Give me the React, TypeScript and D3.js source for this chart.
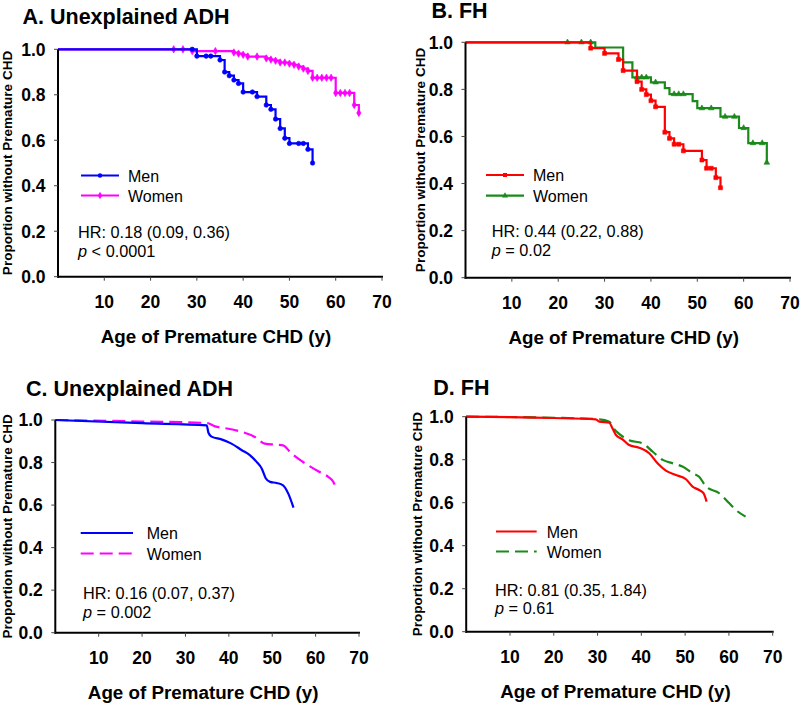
import React from "react";
import * as d3 from "d3";

// ---------- shared labels ----------
const xTicks = [10, 20, 30, 40, 50, 60, 70];
const yTicks = [0, 0.2, 0.4, 0.6, 0.8, 1.0];
const xTitle = "Age of Premature CHD (y)";
const yTitle = "Proportion without Premature CHD";
const legendNames = ["Men", "Women"];
const panelTitles = ["A. Unexplained ADH", "B. FH", "C. Unexplained ADH", "D. FH"];
const hrTexts = ["HR: 0.18 (0.09, 0.36)", "HR: 0.44 (0.22, 0.88)", "HR: 0.16 (0.07, 0.37)", "HR: 0.81 (0.35, 1.84)"];
const pTexts = ["< 0.0001", "= 0.02", "= 0.002", "= 0.61"];

// ---------- Panel A: Kaplan-Meier, unexplained ADH ----------
const aMenEvents: [number, number][] = [
  [30, 0.97], [35, 0.953], [36, 0.9], [37, 0.884], [38, 0.865], [39, 0.85], [40, 0.812],
  [43, 0.792], [45, 0.755], [46, 0.736], [47, 0.693], [48, 0.652], [49, 0.609], [50, 0.586],
  [54, 0.56], [55, 0.5],
];
const aMenMarks = [29, 30, 32, 33, 35, 36, 37, 38, 39, 40, 42, 43, 45, 46, 47, 48, 49, 50, 52, 53, 54, 55];
const aWomenEvents: [number, number][] = [
  [29, 0.992], [38, 0.986], [39, 0.981], [40, 0.976], [41, 0.968], [45, 0.96], [46, 0.955],
  [47, 0.95], [48, 0.942], [50, 0.937], [51, 0.932], [52, 0.924], [53, 0.915], [54, 0.905],
  [55, 0.875], [60, 0.808], [64, 0.755], [65, 0.72],
];
const aWomenMarks = [25, 27, 29, 34, 38, 39, 40, 41, 43, 45, 46, 47, 48, 49, 50, 51, 52, 53, 54, 55, 56, 57, 58, 59, 60, 61, 62, 63, 64, 65];

// ---------- Panel B: Kaplan-Meier, FH ----------
const bMenEvents: [number, number][] = [
  [27, 0.975], [30, 0.953], [33, 0.927], [34, 0.88], [37, 0.833], [38, 0.8], [39, 0.778],
  [40, 0.752], [41, 0.726], [43, 0.618], [44, 0.592], [45, 0.567], [47, 0.539], [51, 0.5],
  [52, 0.465], [54, 0.425], [55, 0.382],
];
const bMenMarks = [27, 30, 33, 34, 37, 38, 39, 40, 41, 43, 44, 45, 46, 47, 51, 52, 53, 54, 55];
const bWomenEvents: [number, number][] = [
  [28, 0.978], [34, 0.915], [36, 0.851], [40, 0.83], [43, 0.805], [44, 0.78], [49, 0.75],
  [50, 0.72], [55, 0.684], [59, 0.636], [61, 0.572], [65, 0.489],
];
const bWomenMarks = [22, 25, 27, 37, 38, 39, 41, 45, 46, 47, 51, 53, 56, 58, 60, 62, 64, 65];

// ---------- Panel C: adjusted curves, unexplained ADH ----------
const cMen: [number, number][] = [
  [0, 1.0], [20, 0.985], [34.9, 0.975], [35.3, 0.94], [36, 0.922], [38.3, 0.909], [40.6, 0.889],
  [43, 0.858], [44.9, 0.834], [46.4, 0.803], [47.6, 0.771], [48.5, 0.726], [49.5, 0.709],
  [51, 0.704], [52.5, 0.693], [53.7, 0.654], [54.9, 0.588],
];
const cWomen: [number, number][] = [
  [0, 1.0], [20, 0.993], [34.9, 0.986], [36.8, 0.97], [39.9, 0.959], [43, 0.944], [46, 0.92],
  [48.3, 0.889], [50.6, 0.884], [52.5, 0.881], [54.1, 0.85], [56, 0.818], [58.3, 0.787],
  [60.6, 0.759], [62.9, 0.733], [64.1, 0.709], [64.8, 0.674],
];

// ---------- Panel D: adjusted curves, FH ----------
const dMen: [number, number][] = [
  [0, 1.0], [20, 0.994], [29.6, 0.988], [30.4, 0.977], [32.7, 0.972], [33.4, 0.946], [34.2, 0.915],
  [35.7, 0.895], [37.2, 0.868], [39.5, 0.856], [41.8, 0.83], [43.7, 0.783], [45.6, 0.749],
  [47.9, 0.729], [50.2, 0.709], [51.7, 0.675], [53.2, 0.659], [54.2, 0.644], [54.9, 0.605],
];
const dWomen: [number, number][] = [
  [0, 1.0], [20, 0.995], [30.4, 0.988], [32.7, 0.977], [33.4, 0.953], [35, 0.919], [37.2, 0.891],
  [40.3, 0.876], [42.6, 0.837], [44.9, 0.799], [47.2, 0.783], [49.4, 0.768], [51.7, 0.737],
  [53.2, 0.721], [54.8, 0.675], [57.8, 0.644], [60.1, 0.597], [61.6, 0.566], [63.8, 0.535],
];

// ---------- layout ----------
const FONT = "'Liberation Sans', Arial, Helvetica, sans-serif";
type Layout = {
  x0: number; x1: number; yTop: number; yBot: number;
  titleX: number; titleY: number;
  legX1: number; legX2: number; legY1: number; legY2: number; legTextX: number; legTextDy: number;
  hrX: number; hrY: number; pY: number; yTitleX: number;
};
const layouts: Layout[] = [
  { x0: 58, x1: 382, yTop: 49.3, yBot: 276.7, titleX: 22.5, titleY: 23.5,
    legX1: 81, legX2: 119, legY1: 175.5, legY2: 195.5, legTextX: 128, legTextDy: 6,
    hrX: 78, hrY: 237.5, pY: 256.7, yTitleX: 12.3 },
  { x0: 465.5, x1: 790, yTop: 42.3, yBot: 277.7, titleX: 431.5, titleY: 17.5,
    legX1: 486, legX2: 524, legY1: 175, legY2: 195.7, legTextX: 533, legTextDy: 6,
    hrX: 491.7, hrY: 236.7, pY: 256, yTitleX: 425 },
  { x0: 55.3, x1: 359, yTop: 420, yBot: 632.7, titleX: 26, titleY: 395.7,
    legX1: 80.7, legX2: 133, legY1: 533, legY2: 553.5, legTextX: 146.7, legTextDy: 6,
    hrX: 83, hrY: 599.3, pY: 618.3, yTitleX: 11.5 },
  { x0: 466.2, x1: 772.7, yTop: 416.7, yBot: 631.7, titleX: 433.3, titleY: 395.3,
    legX1: 496, legX2: 536.7, legY1: 531.5, legY2: 551.5, legTextX: 546.7, legTextDy: 6,
    hrX: 495, hrY: 595.7, pY: 614.3, yTitleX: 421.5 },
];

type Series = {
  color: string;
  kind: "step" | "smooth";
  data: [number, number][];
  marks?: number[];
  symbol?: d3.SymbolType;
  dash?: string;
};

const panels: { men: Series; women: Series }[] = [
  {
    men: { color: "#0000ff", kind: "step", data: aMenEvents, marks: aMenMarks, symbol: d3.symbolCircle },
    women: { color: "#ff00ff", kind: "step", data: aWomenEvents, marks: aWomenMarks, symbol: d3.symbolDiamond },
  },
  {
    men: { color: "#ff0000", kind: "step", data: bMenEvents, marks: bMenMarks, symbol: d3.symbolSquare },
    women: { color: "#1a8a1a", kind: "step", data: bWomenEvents, marks: bWomenMarks, symbol: d3.symbolTriangle },
  },
  {
    men: { color: "#0000ff", kind: "smooth", data: cMen },
    women: { color: "#ff00ff", kind: "smooth", data: cWomen, dash: "13,6" },
  },
  {
    men: { color: "#ff0000", kind: "smooth", data: dMen },
    women: { color: "#1a8a1a", kind: "smooth", data: dWomen, dash: "13,6" },
  },
];

function survivalAt(events: [number, number][], t: number): number {
  let s = 1;
  for (const [a, v] of events) if (a <= t) s = v;
  return s;
}

function SeriesPath({ s, x, y }: { s: Series; x: d3.ScaleLinear<number, number>; y: d3.ScaleLinear<number, number> }) {
  const pts: [number, number][] = s.kind === "step" ? [[0, 1], ...s.data] : s.data;
  const line = d3
    .line<[number, number]>()
    .x((d) => x(d[0]))
    .y((d) => y(d[1]))
    .curve(s.kind === "step" ? d3.curveStepAfter : d3.curveMonotoneX);
  const sym = s.symbol ? d3.symbol().type(s.symbol).size(s.symbol === d3.symbolTriangle ? 14 : 16)() : null;
  return (
    <g>
      <path d={line(pts) || ""} fill="none" stroke={s.color} strokeWidth={2.2} strokeDasharray={s.dash} />
      {s.marks && sym &&
        s.marks.map((m, i) => (
          <path key={i} d={sym} fill={s.color} stroke={s.color} strokeWidth={0.6}
            transform={`translate(${x(m)},${y(survivalAt(s.data, m))})`} />
        ))}
    </g>
  );
}

function Panel({ idx }: { idx: number }) {
  const L = layouts[idx];
  const { men, women } = panels[idx];
  const x = d3.scaleLinear().domain([0, 70]).range([L.x0, L.x1]);
  const y = d3.scaleLinear().domain([0, 1]).range([L.yBot, L.yTop]);
  const series = [men, women];
  const legYs = [L.legY1, L.legY2];
  return (
    <g fontFamily={FONT}>
      <text x={L.titleX} y={L.titleY} fontSize={21.5} fontWeight="bold" fill="#000">{panelTitles[idx]}</text>
      {/* data */}
      <SeriesPath s={women} x={x} y={y} />
      <SeriesPath s={men} x={x} y={y} />
      {/* axes */}
      <line x1={L.x0} x2={L.x0} y1={y(1)} y2={y(0) + 1} stroke="#000" strokeWidth={2} />
      <line x1={L.x0 - 1} x2={x(70) + 1} y1={y(0)} y2={y(0)} stroke="#000" strokeWidth={2} />
      {yTicks.map((t) => (
        <g key={"y" + t}>
          <line x1={L.x0 - 4} x2={L.x0} y1={y(t)} y2={y(t)} stroke="#444" strokeWidth={1} />
          <text x={L.x0 - 12.5} y={y(t)} dy="0.36em" textAnchor="end" fontSize={17.5} fontWeight="bold">
            {d3.format(".1f")(t)}
          </text>
        </g>
      ))}
      {xTicks.map((t) => (
        <g key={"x" + t}>
          <line x1={x(t)} x2={x(t)} y1={y(0)} y2={y(0) + 4} stroke="#444" strokeWidth={1} />
          <text x={x(t)} y={y(0) + 31} textAnchor="middle" fontSize={17.5} fontWeight="bold">{t}</text>
        </g>
      ))}
      <text x={(L.x0 + L.x1) / 2 - 4} y={y(0) + 66.5} textAnchor="middle" fontSize={18.8} fontWeight="bold">{xTitle}</text>
      <text transform={`translate(${L.yTitleX},${(y(0) + y(1)) / 2}) rotate(-90)`} textAnchor="middle" fontSize={13.5} fontWeight="bold">
        {yTitle}
      </text>
      {/* legend */}
      {series.map((s, i) => {
        const sym = s.symbol ? d3.symbol().type(s.symbol).size(16)() : null;
        return (
          <g key={"leg" + i}>
            <line x1={L.legX1} x2={L.legX2} y1={legYs[i]} y2={legYs[i]} stroke={s.color} strokeWidth={2.2} strokeDasharray={s.dash} />
            {sym && <path d={sym} fill={s.color} transform={`translate(${(L.legX1 + L.legX2) / 2},${legYs[i]})`} />}
            <text x={L.legTextX} y={legYs[i] + L.legTextDy} fontSize={16} fill="#000">{legendNames[i]}</text>
          </g>
        );
      })}
      <text x={L.hrX} y={L.hrY} fontSize={16.3}>{hrTexts[idx]}</text>
      <text x={L.hrX} y={L.pY} fontSize={16.3}>
        <tspan fontStyle="italic">p</tspan> {pTexts[idx]}
      </text>
    </g>
  );
}

export default function App() {
  return (
    <svg width={800} height={705} viewBox="0 0 800 705"
      style={{ position: "absolute", left: 0, top: 0, background: "#fff" }}>
      <rect x={0} y={0} width={800} height={705} fill="#fff" />
      {[0, 1, 2, 3].map((i) => <Panel key={i} idx={i} />)}
    </svg>
  );
}
